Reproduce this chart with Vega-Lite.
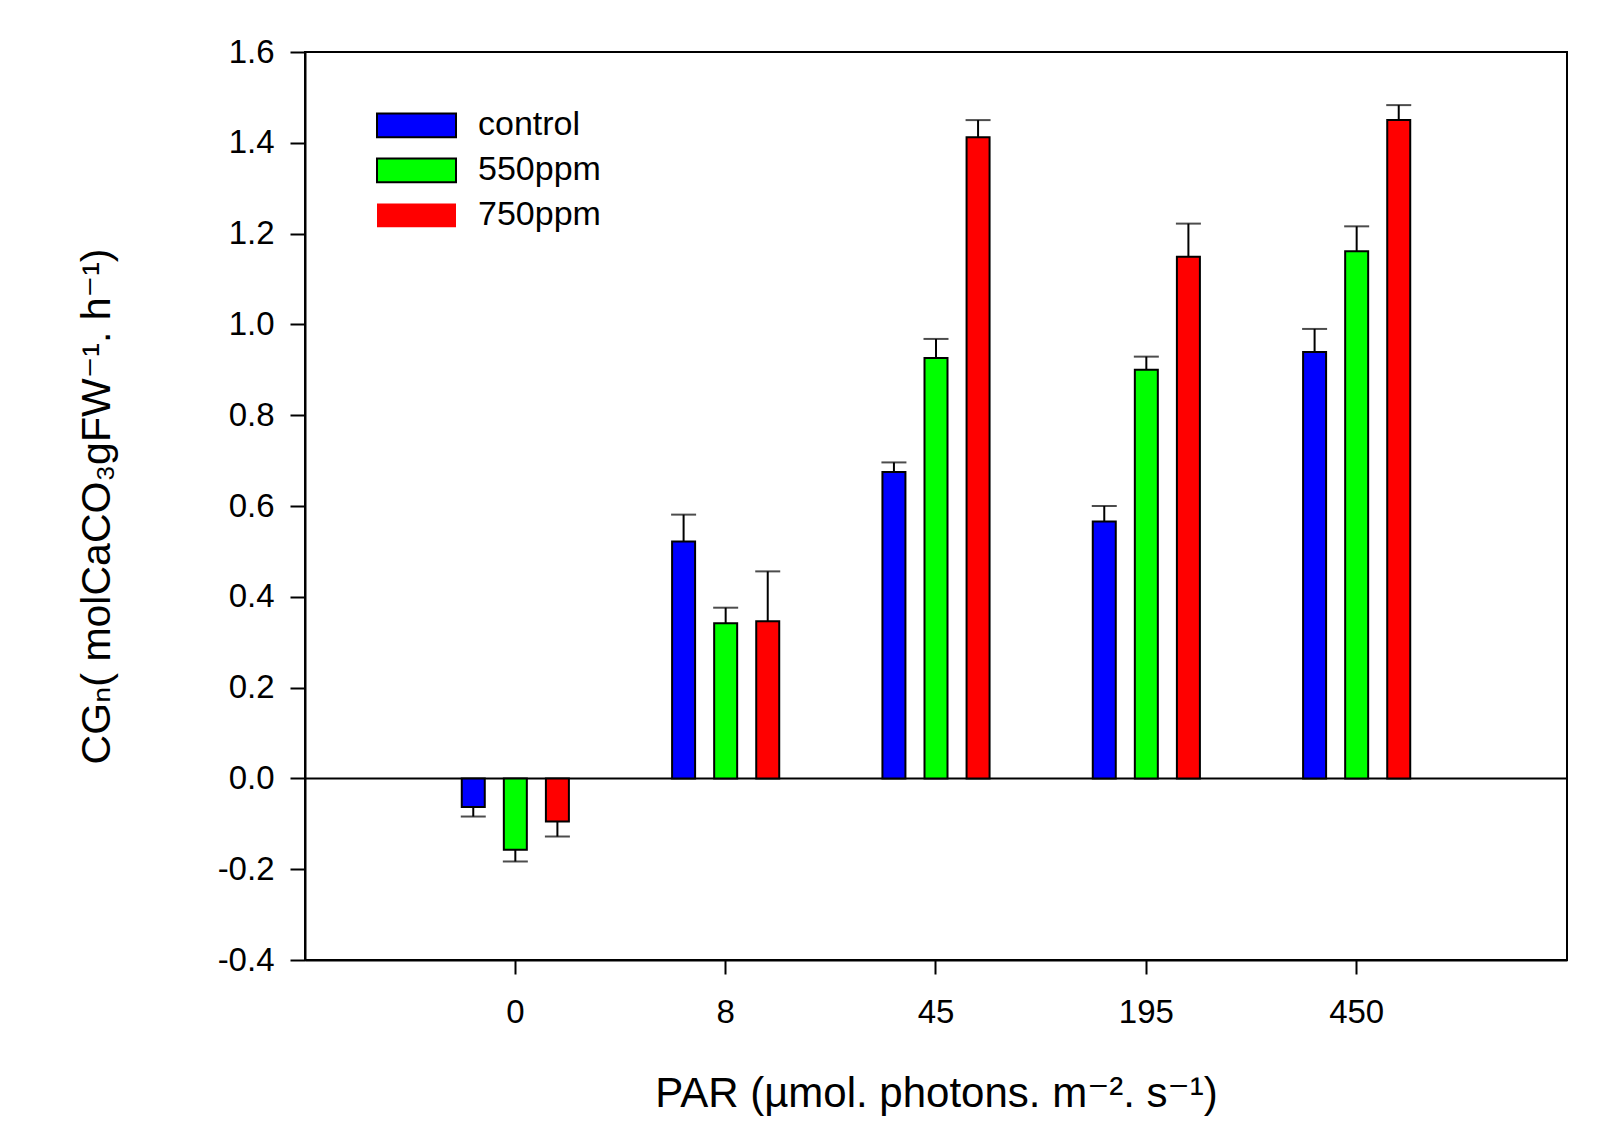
{
  "$schema": "https://vega.github.io/schema/vega-lite/v6.json",
  "width": 1262,
  "height": 908,
  "autosize": {"type": "none"},
  "padding": {"left": 305, "top": 52, "right": 46, "bottom": 169},
  "background": "white",
  "config": {
    "font": "Liberation Sans",
    "view": {"stroke": "black", "strokeWidth": 2},
    "axis": {
      "grid": false,
      "domainColor": "black",
      "domainWidth": 2,
      "tickColor": "black",
      "tickWidth": 2,
      "labelColor": "black",
      "labelFont": "Liberation Sans",
      "labelFontSize": 33,
      "titleFont": "Liberation Sans, DejaVu Sans",
      "titleFontSize": 42,
      "titleFontWeight": "normal",
      "titleColor": "black"
    }
  },
  "data": {
    "values": [
      {"par": "0", "group": "control", "value": -0.063, "err": -0.084},
      {"par": "0", "group": "550ppm", "value": -0.157, "err": -0.183},
      {"par": "0", "group": "750ppm", "value": -0.095, "err": -0.128},
      {"par": "8", "group": "control", "value": 0.522, "err": 0.581},
      {"par": "8", "group": "550ppm", "value": 0.342, "err": 0.376},
      {"par": "8", "group": "750ppm", "value": 0.346, "err": 0.456},
      {"par": "45", "group": "control", "value": 0.675, "err": 0.696},
      {"par": "45", "group": "550ppm", "value": 0.926, "err": 0.968},
      {"par": "45", "group": "750ppm", "value": 1.412, "err": 1.45},
      {"par": "195", "group": "control", "value": 0.566, "err": 0.6},
      {"par": "195", "group": "550ppm", "value": 0.9, "err": 0.929},
      {"par": "195", "group": "750ppm", "value": 1.149, "err": 1.222},
      {"par": "450", "group": "control", "value": 0.939, "err": 0.99},
      {"par": "450", "group": "550ppm", "value": 1.161, "err": 1.216},
      {"par": "450", "group": "750ppm", "value": 1.45, "err": 1.483}
    ]
  },
  "encoding": {
    "x": {
      "field": "par",
      "type": "nominal",
      "sort": ["0", "8", "45", "195", "450"],
      "scale": {"paddingInner": 0, "paddingOuter": 0.5},
      "axis": {
        "labelAngle": 0,
        "tickSize": 14,
        "labelPadding": 22,
        "title": "PAR (µmol. photons. m⁻². s⁻¹)",
        "titleY": 146,
        "titleBaseline": "alphabetic"
      }
    },
    "xOffset": {
      "field": "group",
      "type": "nominal",
      "sort": ["control", "550ppm", "750ppm"],
      "scale": {"paddingInner": 0, "paddingOuter": 1}
    }
  },
  "layer": [
    {
      "data": {"values": [{}]},
      "mark": {"type": "rule", "color": "black", "strokeWidth": 2},
      "encoding": {"x": null, "xOffset": null, "y": {"datum": 0, "type": "quantitative"}}
    },
    {
      "mark": {"type": "rule", "color": "black", "strokeWidth": 2},
      "encoding": {
        "y": {"field": "value", "type": "quantitative"},
        "y2": {"field": "err"}
      }
    },
    {
      "mark": {"type": "tick", "color": "black", "thickness": 2, "size": 25, "orient": "horizontal"},
      "encoding": {
        "y": {"field": "err", "type": "quantitative"}
      }
    },
    {
      "mark": {"type": "bar", "stroke": "black", "strokeWidth": 2, "width": 23},
      "encoding": {
        "y": {
          "field": "value",
          "type": "quantitative",
          "scale": {"domain": [-0.4, 1.6], "nice": false, "zero": false},
          "axis": {
            "values": [-0.4, -0.2, 0, 0.2, 0.4, 0.6, 0.8, 1.0, 1.2, 1.4, 1.6],
            "labelExpr": "datum.value < 0 ? '-' + format(-datum.value, '.1f') : format(datum.value, '.1f')",
            "tickSize": 15,
            "labelPadding": 16,
            "title": "CGₙ( molCaCO₃gFW⁻¹. h⁻¹)",
            "titleFontSize": 41,
            "titleAngle": -90,
            "titleX": -196,
            "titleY": 454,
            "titleAlign": "center",
            "titleBaseline": "alphabetic"
          }
        },
        "color": {
          "field": "group",
          "type": "nominal",
          "sort": ["control", "550ppm", "750ppm"],
          "scale": {"domain": ["control", "550ppm", "750ppm"], "range": ["#0000FF", "#00FF00", "#FF0000"]},
          "legend": {
            "title": null,
            "orient": "none",
            "legendX": 71,
            "legendY": 56,
            "padding": 0,
            "clipHeight": 34.8,
            "symbolType": "M-1,-0.3H1V0.3H-1Z",
            "symbolSize": 6241,
            "symbolStrokeWidth": 2,
            "symbolStrokeColor": "black",
            "symbolOpacity": 1,
            "labelFontSize": 34,
            "labelFont": "Liberation Sans",
            "labelColor": "black",
            "labelOffset": 21,
            "rowPadding": 10,
            "encode": {
              "symbols": {
                "update": {
                  "stroke": {"signal": "datum.label === '750ppm' ? 'transparent' : 'black'"}
                }
              }
            }
          }
        }
      }
    }
  ]
}
